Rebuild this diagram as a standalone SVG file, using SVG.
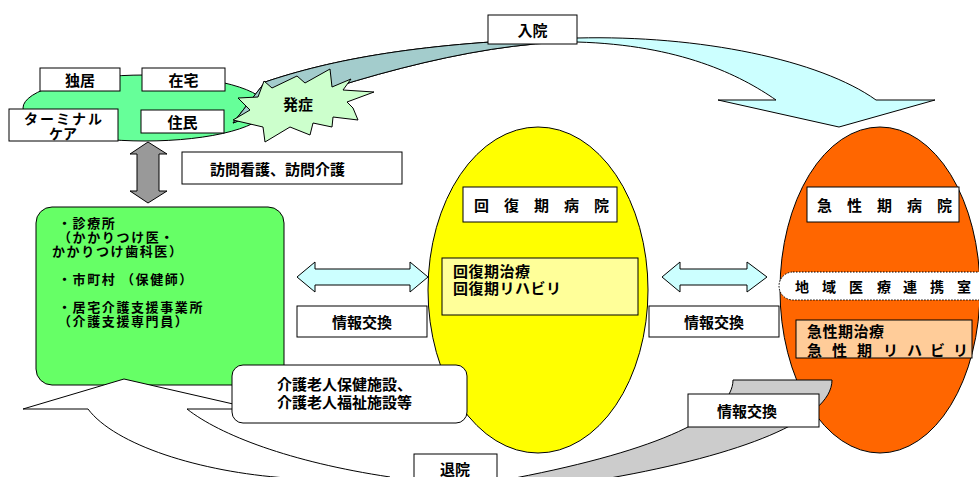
<svg xmlns="http://www.w3.org/2000/svg" width="979" height="477" viewBox="0 0 979 477">
<defs>
<style>
.t{font-family:'Noto Sans CJK JP','Noto Sans CJK SC',sans-serif;font-weight:700;font-size:15px;fill:#000;dominant-baseline:central}
.c{text-anchor:middle}
.s{font-size:13px;letter-spacing:1.6px}
.box{fill:#fff;stroke:#000;stroke-width:1}
.ln{stroke:#000;stroke-width:1}
</style>
<clipPath id="tealclip"><rect x="0" y="0" width="530" height="200"/></clipPath>
</defs>
<rect width="979" height="477" fill="#fff"/>

<g id="home-area">
<ellipse cx="145" cy="108" rx="122" ry="33" fill="#66FF99" class="ln"/>
</g>

<g id="recovery-hospital">
<ellipse cx="538" cy="290" rx="110" ry="163" fill="#FFFF00" class="ln"/>
<rect x="463" y="187" width="154" height="35" class="box"/>
<text class="t" y="204"><tspan x="474">回</tspan><tspan x="504">復</tspan><tspan x="534">期</tspan><tspan x="564">病</tspan><tspan x="594">院</tspan></text>
<rect x="442" y="258" width="196" height="57" fill="#FFFF99" class="ln"/>
<text class="t" style="letter-spacing:0.5px"><tspan x="453" y="270">回復期治療</tspan><tspan x="453" y="287">回復期リハビリ</tspan></text>
</g>

<g id="acute-hospital">
<ellipse cx="880" cy="290" rx="100" ry="163" fill="#FF6600" class="ln"/>
<rect x="807" y="187" width="152" height="35" class="box"/>
<text class="t" y="204"><tspan x="817">急</tspan><tspan x="847">性</tspan><tspan x="877">期</tspan><tspan x="907">病</tspan><tspan x="937">院</tspan></text>
<rect x="779" y="272" width="215" height="28" rx="14" fill="#fff" stroke="#000" stroke-width="1" stroke-dasharray="1.5,1.5"/>
<text class="t" y="286" style="font-size:14px"><tspan x="795">地</tspan><tspan x="822">域</tspan><tspan x="849">医</tspan><tspan x="877">療</tspan><tspan x="903">連</tspan><tspan x="930">携</tspan><tspan x="957">室</tspan></text>
<rect x="796" y="320" width="176" height="38" fill="#FFCC99" class="ln"/>
<text class="t"><tspan x="807" y="330" style="letter-spacing:0.5px">急性期治療</tspan><tspan y="349" x="807">急</tspan><tspan y="349" x="832">性</tspan><tspan y="349" x="857">期</tspan><tspan y="349" x="883">リ</tspan><tspan y="349" x="907">ハ</tspan><tspan y="349" x="930">ビ</tspan><tspan y="349" x="953">リ</tspan></text>
</g>

<g id="clinic">
<rect x="36" y="207" width="248" height="178" rx="16" fill="#66FF66" class="ln"/>
<text class="t s"><tspan x="58" y="222">・診療所</tspan><tspan x="58" y="236">（かかりつけ医・</tspan><tspan x="52" y="250">かかりつけ歯科医）</tspan></text>
<text class="t s" x="58" y="278">・市町村 （保健師）</text>
<text class="t s"><tspan x="58" y="306">・居宅介護支援事業所</tspan><tspan x="58" y="320">（介護支援専門員）</tspan></text>
</g>

<g id="connectors">
<path d="M265,82 C330,60 420,42 577,38 C700,35 820,60 876,100 L935,100 L839,127 L718,100 L776,100 C740,75 680,45 577,42 C470,42 330,85 233,123 Z" fill="#CCFFFF" class="ln"/>
<path clip-path="url(#tealclip)" d="M265,82 C330,60 420,42 577,38 C700,35 820,60 876,100 L935,100 L839,127 L718,100 L776,100 C740,75 680,45 577,42 C470,42 330,85 233,123 Z" fill="#A3CCCC" class="ln"/>
<path d="M124,379 L255,409 L187,409 C220,435 290,462 390,477 L392,495 L287,495 L287,478 C200,472 115,445 88,409 L23,409 Z" fill="#fff" class="ln"/>
<path d="M733,380 L832,380 C832,420 740,455 610,478 L610,495 L515,495 L515,478 C660,450 733,415 733,380 Z" fill="#CCCCCC" class="ln"/>
<path d="M148,142 L167,154 L159,154 L159,191 L167,191 L148,203 L130,191 L137,191 L137,154 L130,154 Z" fill="#999999" class="ln"/>
<path d="M297,277 L315,262 L315,269 L410,269 L410,262 L428,277 L410,292 L410,285 L315,285 L315,292 Z" fill="#CCFFFF" class="ln"/>
<path d="M662,277 L680,262 L680,269 L747,269 L747,262 L767,277 L747,292 L747,285 L680,285 L680,292 Z" fill="#CCFFFF" class="ln"/>
</g>

<g id="onset">
<polygon points="264,81 272,88 297,76 305,83 330,69 332,87 351,79 343,90 374,92 347,102 353,108 358,120 333,117 332,127 313,123 310,135 290,127 265,142 263,127 233,120 250,110 238,98 258,97" fill="#CCFFCC" class="ln"/>
<text class="t c" x="298" y="103">発症</text>
</g>

<g id="home-labels">
<rect x="40" y="68" width="80" height="23" class="box"/>
<text class="t c" x="80" y="79.5">独居</text>
<rect x="142" y="68" width="83" height="23" class="box"/>
<text class="t c" x="183.5" y="79.5">在宅</text>
<rect x="9" y="109" width="109" height="32" class="box"/>
<text class="t c" style="font-size:14px"><tspan x="64" y="118" style="letter-spacing:2px">ターミナル</tspan><tspan x="63" y="133">ケア</tspan></text>
<rect x="141" y="110" width="83" height="23" class="box"/>
<text class="t c" x="182.5" y="121.5">住民</text>
</g>

<g id="visit-care">
<rect x="182" y="152" width="220" height="32" class="box"/>
<text class="t" x="210" y="168">訪問看護、訪問介護</text>
</g>

<g id="admission">
<rect x="488" y="15" width="89" height="29" class="box"/>
<text class="t c" x="532.5" y="29.5">入院</text>
</g>

<g id="info-left">
<rect x="297" y="306" width="130" height="31" class="box"/>
<text class="t c" x="362" y="321">情報交換</text>
</g>

<g id="info-right">
<rect x="649" y="306" width="130" height="31" class="box"/>
<text class="t c" x="714" y="321">情報交換</text>
</g>

<g id="info-bottom">
<rect x="688" y="394" width="131" height="33" class="box"/>
<text class="t c" x="747" y="410">情報交換</text>
</g>

<g id="nursing-facility">
<rect x="232" y="365" width="235" height="58" rx="11" class="box"/>
<text class="t"><tspan x="277" y="383">介護老人保健施設、</tspan><tspan x="277" y="401">介護老人福祉施設等</tspan></text>
</g>

<g id="discharge">
<rect x="414" y="454" width="83" height="40" class="box"/>
<text class="t c" x="455" y="468">退院</text>
</g>
</svg>
